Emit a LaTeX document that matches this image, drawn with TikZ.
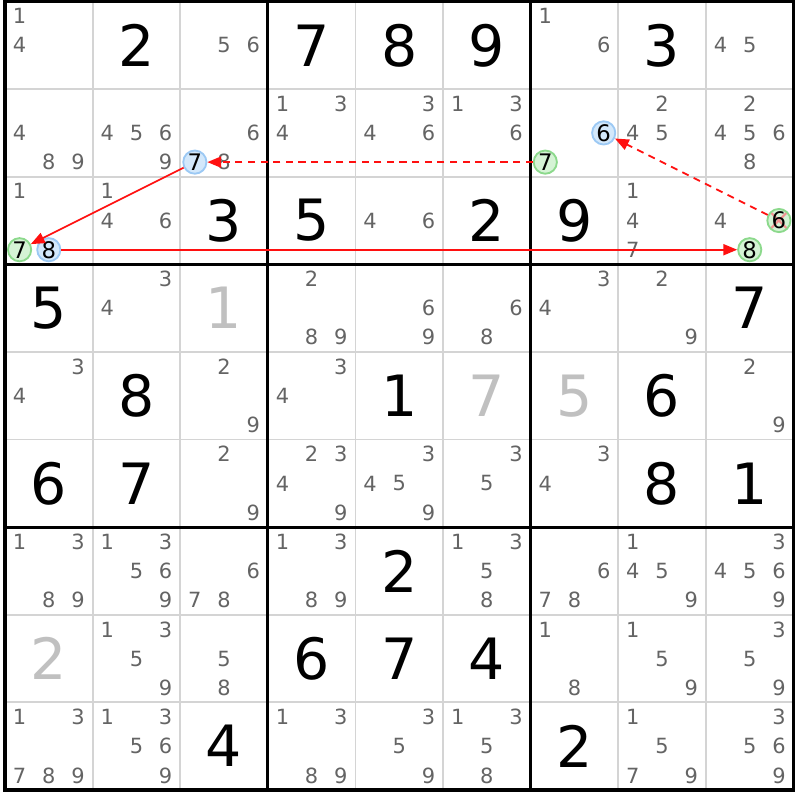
\documentclass[tikz,border=0pt]{standalone}
\usepackage{fontspec}
\setmainfont{DejaVu Sans}
\usetikzlibrary{arrows.meta}
\definecolor{candgray}{HTML}{646464}
\definecolor{fadegray}{HTML}{C0C0C0}
\definecolor{thingray}{HTML}{D4D4D4}
\definecolor{linkblue}{HTML}{9CC9F4}
\definecolor{fillblue}{HTML}{D3E8FB}
\definecolor{linkgreen}{HTML}{8CD98C}
\definecolor{fillgreen}{HTML}{D5F3D5}
\definecolor{crossred}{HTML}{F29494}
\definecolor{chainred}{HTML}{FF1010}
\begin{document}
\begin{tikzpicture}[x=1cm,y=-1cm,
    cand/.style={inner sep=0pt,text=candgray,font=\fontsize{6.8}{6.8}\selectfont},
    given/.style={inner sep=0pt,font=\fontsize{18.5}{18.5}\selectfont},
    faded/.style={given,text=fadegray},
    oncand/.style={circle,inner sep=0pt,minimum size=0.265cm,line width=0.6pt,draw=linkblue,fill=fillblue,font=\fontsize{7.4}{7.4}\selectfont},
    offcand/.style={oncand,draw=linkgreen,fill=fillgreen},
    crossed/.style={offcand,path picture={\draw[crossred,line width=0.7pt] (path picture bounding box.north west) -- (path picture bounding box.south east) (path picture bounding box.north east) -- (path picture bounding box.south west);}},
    strong/.style={chainred,line width=0.55pt,-{Triangle[length=4.5pt,width=3.6pt]}},
    weak/.style={strong,dash pattern=on 2.3pt off 1.8pt}]
  \useasboundingbox (-0.057,-0.017) rectangle (9.057,9.114);
  \foreach \i in {1,2,4,5,7,8} {
    \draw[thingray,line width=0.6pt] (\i,0) -- (\i,9);
    \draw[thingray,line width=0.6pt] (0,\i) -- (9,\i);
  }
  \foreach \i in {3,6} {
    \draw[line width=1pt] (\i,0) -- (\i,9);
    \draw[line width=1pt] (0,\i) -- (9,\i);
  }
  \draw[line width=1pt] (0,0) rectangle (9,9);
  \foreach \r/\c/\d in {1/2/2,1/4/7,1/5/8,1/6/9,1/8/3,3/3/3,3/4/5,3/6/2,3/7/9,4/1/5,4/9/7,5/2/8,5/5/1,5/8/6,6/1/6,6/2/7,6/8/8,6/9/1,7/5/2,8/4/6,8/5/7,8/6/4,9/3/4,9/7/2}
    \node[given] (g\r\c) at (\c-0.5,\r-0.5) {\d};
  \foreach \r/\c/\d in {4/3/1,5/6/7,5/7/5,8/1/2}
    \node[faded] (g\r\c) at (\c-0.5,\r-0.5) {\d};
  \foreach \r/\c/\ds in {1/1/{1,4},1/3/{5,6},1/7/{1,6},1/9/{4,5},
      2/1/{4,8,9},2/2/{4,5,6,9},2/3/{6,8},2/4/{1,3,4},2/5/{3,4,6},2/6/{1,3,6},2/8/{2,4,5},2/9/{2,4,5,6,8},
      3/1/{1},3/2/{1,4,6},3/5/{4,6},3/8/{1,4,7},3/9/{4},
      4/2/{3,4},4/4/{2,8,9},4/5/{6,9},4/6/{6,8},4/7/{3,4},4/8/{2,9},
      5/1/{3,4},5/3/{2,9},5/4/{3,4},5/9/{2,9},
      6/3/{2,9},6/4/{2,3,4,9},6/5/{3,4,5,9},6/6/{3,5},6/7/{3,4},
      7/1/{1,3,8,9},7/2/{1,3,5,6,9},7/3/{6,7,8},7/4/{1,3,8,9},7/6/{1,3,5,8},7/7/{6,7,8},7/8/{1,4,5,9},7/9/{3,4,5,6,9},
      8/2/{1,3,5,9},8/3/{5,8},8/7/{1,8},8/8/{1,5,9},8/9/{3,5,9},
      9/1/{1,3,7,8,9},9/2/{1,3,5,6,9},9/4/{1,3,8,9},9/5/{3,5,9},9/6/{1,3,5,8},9/8/{1,5,7,9},9/9/{3,5,6,9}}
    \foreach \d in \ds {
      \pgfmathsetmacro\cx{\c-1+(mod(\d-1,3)+0.5)/3}
      \pgfmathsetmacro\cy{\r-1+(floor((\d-1)/3)+0.5)/3}
      \node[cand] (c\r\c\d) at (\cx,\cy) {\d};
    }
  \node[oncand] (r2c3n7) at (2.1667,1.8333) {7};
  \node[oncand] (r2c7n6) at (6.8333,1.5) {6};
  \node[offcand] (r2c7n7) at (6.1667,1.8333) {7};
  \node[offcand] (r3c1n7) at (0.1667,2.8333) {7};
  \node[oncand] (r3c1n8) at (0.5,2.8333) {8};
  \node[crossed] (r3c9n6) at (8.8333,2.5) {6};
  \node[offcand] (r3c9n8) at (8.5,2.8333) {8};
  \draw[weak] (r2c7n7) -- (r2c3n7);
  \draw[strong] (r2c3n7) -- (r3c1n7);
  \draw[strong] (r3c1n8) -- (r3c9n8);
  \draw[weak] (r3c9n6) -- (r2c7n6);
\end{tikzpicture}
\end{document}
